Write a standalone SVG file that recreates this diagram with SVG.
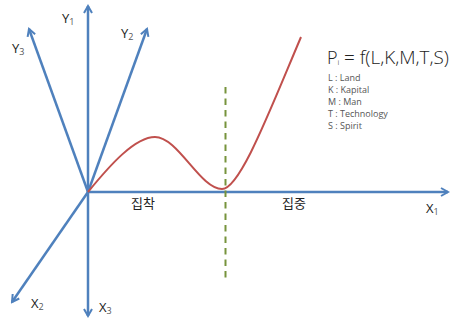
<svg xmlns="http://www.w3.org/2000/svg" width="456" height="322" viewBox="0 0 456 322">
<defs>
<marker id="ah" viewBox="0 0 10 10" refX="8" refY="5" markerWidth="4" markerHeight="4" orient="auto" markerUnits="strokeWidth">
<path d="M1,1 L8,5 L1,9" fill="none" stroke="#4f81bd" stroke-width="2"/>
</marker>
</defs>
<style>
.ax{stroke:#4f81bd;stroke-width:2.5;fill:none;marker-end:url(#ah)}
.lbl{font-family:"Open Sans","DejaVu Sans",sans-serif;font-size:13px;fill:#222}
.sub{font-size:9px;fill:#555}
.ko{font-family:"Noto Sans CJK KR",sans-serif;font-size:13px;fill:#222}
.f{font-family:"Open Sans","DejaVu Sans",sans-serif;fill:#222}
.leg{font-family:"Open Sans","DejaVu Sans",sans-serif;font-size:9px;fill:#555}
</style>
<rect width="456" height="322" fill="#fff"/>
<g id="connectors">
<line class="ax" x1="88" y1="192" x2="88" y2="6"/>
<line class="ax" x1="88" y1="192" x2="147" y2="29"/>
<line class="ax" x1="88" y1="192" x2="29" y2="29"/>
<line class="ax" x1="88" y1="192" x2="448" y2="192"/>
<line class="ax" x1="88" y1="192" x2="12" y2="302"/>
<line class="ax" x1="88" y1="192" x2="88" y2="316"/>
<line x1="225.5" y1="87" x2="225.5" y2="278" stroke="#77933c" stroke-width="2" stroke-dasharray="6.5,5"/>
<path d="M88,192 C110,165 135,137 155,137 C178,137 200,189 222,189 C240,189 270,110 301,37" fill="none" stroke="#c0504d" stroke-width="2"/>
</g>
<g id="labels">
<text class="lbl" x="62" y="23">Y<tspan class="sub" dy="2">1</tspan></text>
<text class="lbl" x="121" y="38">Y<tspan class="sub" dy="2">2</tspan></text>
<text class="lbl" x="12" y="53">Y<tspan class="sub" dy="2">3</tspan></text>
<text class="lbl" x="426" y="213">X<tspan class="sub" dy="2">1</tspan></text>
<text class="lbl" x="31" y="308">X<tspan class="sub" dy="2">2</tspan></text>
<text class="lbl" x="99" y="312">X<tspan class="sub" dy="2">3</tspan></text>
<text class="ko" x="131" y="208">집착</text>
<text class="ko" x="282" y="208">집중</text>
</g>
<g id="formula">
<text class="f" x="327" y="64" font-size="18" font-weight="300">P<tspan font-size="8" dy="1">i</tspan></text>
<text class="f" x="344" y="64" font-size="18" font-weight="300" textLength="105" lengthAdjust="spacingAndGlyphs">= f(L,K,M,T,S)</text>
<text class="leg" x="328" y="81">L : Land</text>
<text class="leg" x="328" y="93">K : Kapital</text>
<text class="leg" x="328" y="105">M : Man</text>
<text class="leg" x="328" y="117">T : Technology</text>
<text class="leg" x="328" y="129">S : Spirit</text>
</g>
</svg>
